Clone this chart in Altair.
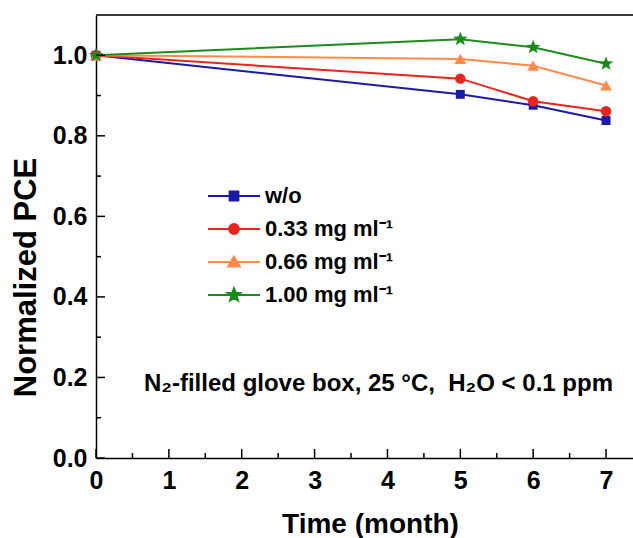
import math

import altair as alt
import pandas as pd

# ---- data -------------------------------------------------------------
months = [0, 5, 6, 7]
series_names = ["w/o", "0.33 mg ml⁻¹", "0.66 mg ml⁻¹", "1.00 mg ml⁻¹"]
pce_wo = [1.0, 0.903, 0.876, 0.838]
pce_033 = [1.0, 0.942, 0.886, 0.861]
pce_066 = [1.0, 0.991, 0.974, 0.925]
pce_100 = [1.0, 1.040, 1.020, 0.979]

x_major = [0, 1, 2, 3, 4, 5, 6, 7]
x_minor = [0.5, 1.5, 2.5, 3.5, 4.5, 5.5, 6.5]
y_major = [0.0, 0.2, 0.4, 0.6, 0.8, 1.0]
y_minor = [0.1, 0.3, 0.5, 0.7, 0.9]

note = "N₂-filled glove box, 25 °C,\u00a0 H₂O < 0.1 ppm"

# ---- styling ----------------------------------------------------------
colors = ["#1a1aa6", "#e8251c", "#ff8a4c", "#1b8c1b"]
FONT = "Liberation Sans"
W, H = 537, 443
X_DOMAIN = [0, 7.37]
Y_DOMAIN = [0, 1.1]


def star_path(r_out, r_in):
    pts = []
    for k in range(10):
        r = r_out if k % 2 == 0 else r_in
        a = -math.pi / 2 + k * math.pi / 5
        pts.append((r * math.cos(a), r * math.sin(a)))
    return "M" + "L".join(f"{px:.3f},{py:.3f}" for px, py in pts) + "Z"


# plot marker shapes and sizes, per series
marker_shapes = ["square", "circle", "triangle-up", star_path(1.0, 0.42)]
marker_sizes = [80, 110, 140, 230]

# legend symbols: a short line segment with the marker on top
seg = "M-2.6,0L2.6,0"
legend_paths = [
    seg + "M-0.45,-0.45L0.45,-0.45L0.45,0.45L-0.45,0.45Z",
    seg + "M-0.5,0A0.5,0.5 0 1,0 0.5,0A0.5,0.5 0 1,0 -0.5,0Z",
    seg + "M0,-0.55L0.6,0.45L-0.6,0.45Z",
    seg + star_path(0.7, 0.3),
]

rows = []
for name, vals in zip(series_names, [pce_wo, pce_033, pce_066, pce_100]):
    for m, v in zip(months, vals):
        rows.append({"month": m, "pce": v, "series": name})
df = pd.DataFrame(rows)


def lookup_expr(values):
    return "[{}][indexof([{}], datum.series)]".format(
        ",".join(str(v) if isinstance(v, (int, float)) else f"'{v}'" for v in values),
        ",".join(f"'{s}'" for s in series_names),
    )


x_scale = alt.Scale(domain=X_DOMAIN, nice=False, zero=False)
y_scale = alt.Scale(domain=Y_DOMAIN, nice=False)
color_scale = alt.Scale(domain=series_names, range=colors)

legend = alt.Legend(
    title=None,
    orient="none",
    legendX=127,
    legendY=170,
    padding=0,
    labelFont=FONT,
    labelFontSize=22,
    labelFontWeight="bold",
    labelColor="black",
    labelOffset=20,
    symbolSize=400,
    symbolStrokeWidth=1.8,
    symbolOpacity=1,
    rowPadding=11,
)

x_axis = alt.Axis(
    title="Time (month)",
    values=x_major,
    format="d",
    ticks=False,
    grid=False,
    labelFlush=False,
    labelFont=FONT,
    labelFontSize=25,
    labelFontWeight="bold",
    labelColor="black",
    labelPadding=10,
    titleFontSize=28,
    titleBaseline="alphabetic",
    titleX=274,
    titleY=74,
)
y_axis = alt.Axis(
    title="Normalized PCE",
    values=y_major,
    format=".1f",
    ticks=False,
    grid=False,
    labelFlush=False,
    labelFont=FONT,
    labelFontSize=25,
    labelFontWeight="bold",
    labelColor="black",
    labelPadding=9,
    titleFontSize=31,
    titleBaseline="alphabetic",
    titleX=-61,
    titleY=262,
)

X = alt.X("month:Q", scale=x_scale, axis=x_axis)
Y = alt.Y("pce:Q", scale=y_scale, axis=y_axis)

base = alt.Chart(df).transform_calculate(
    col=lookup_expr(colors),
    mk=lookup_expr(marker_shapes),
    sz=lookup_expr(marker_sizes),
)

lines = base.mark_line(strokeWidth=2).encode(
    x=X,
    y=Y,
    stroke=alt.Stroke("col:N", scale=None),
    detail="series:N",
)

points = base.mark_point(filled=True, opacity=1).encode(
    x=X,
    y=Y,
    color=alt.Color("col:N", scale=None),
    shape=alt.Shape("mk:N", scale=None),
    size=alt.Size("sz:Q", scale=None),
)

# invisible layer that only carries the legend (line + marker symbols)
legend_layer = alt.Chart(df).mark_point(filled=False, opacity=0).encode(
    x=X,
    y=Y,
    color=alt.Color("series:N", scale=color_scale, legend=legend),
    fill=alt.Fill("series:N", scale=color_scale, legend=legend),
    shape=alt.Shape(
        "series:N",
        scale=alt.Scale(domain=series_names, range=legend_paths),
        legend=legend,
    ),
)

# inward-pointing tick marks
XT = alt.X("t:Q", scale=x_scale, axis=x_axis)
YT = alt.Y("t:Q", scale=y_scale, axis=y_axis)

x_ticks_major = alt.Chart(pd.DataFrame({"t": x_major})).mark_rule(
    color="black", strokeWidth=1.5
).encode(x=XT, y=alt.value(H), y2=alt.value(H - 9))
x_ticks_minor = alt.Chart(pd.DataFrame({"t": x_minor})).mark_rule(
    color="black", strokeWidth=1.5
).encode(x=XT, y=alt.value(H), y2=alt.value(H - 5))
y_ticks_major = alt.Chart(pd.DataFrame({"t": y_major})).mark_rule(
    color="black", strokeWidth=1.5
).encode(y=YT, x=alt.value(0), x2=alt.value(9))
y_ticks_minor = alt.Chart(pd.DataFrame({"t": y_minor})).mark_rule(
    color="black", strokeWidth=1.5
).encode(y=YT, x=alt.value(0), x2=alt.value(5))

# top frame line
top_frame = alt.Chart(pd.DataFrame({"t": [0]})).mark_rule(
    color="#3a3a3a", strokeWidth=2
).encode(x=alt.value(0), x2=alt.value(W), y=alt.value(0))

annotation = alt.Chart(pd.DataFrame({"note": [note]})).mark_text(
    align="right",
    baseline="middle",
    font=FONT,
    fontSize=24,
    fontWeight="bold",
    color="black",
).encode(text="note:N", x=alt.value(517), y=alt.value(369))

chart = (
    alt.layer(
        lines,
        points,
        legend_layer,
        x_ticks_major,
        x_ticks_minor,
        y_ticks_major,
        y_ticks_minor,
        top_frame,
        annotation,
    )
    .properties(
        width=W,
        height=H,
        padding={"left": 96, "top": 15, "right": 0, "bottom": 80},
        autosize=alt.AutoSizeParams(type="none"),
        background="white",
    )
    .configure_view(stroke=None)
    .configure_axis(
        domainColor="black",
        domainWidth=1.5,
        titleFont=FONT,
        titleFontWeight="bold",
        titleColor="black",
    )
)

chart.save("out.html", embed_options={"renderer": "svg", "actions": False})
